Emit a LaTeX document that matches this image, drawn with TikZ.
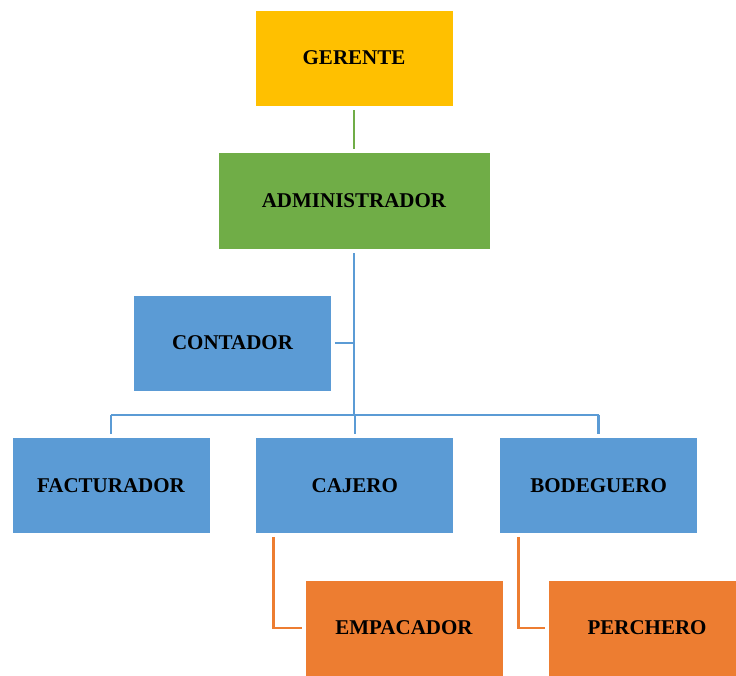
\documentclass[tikz,border=0pt]{standalone}
\usepackage{fontspec}
\setmainfont{Liberation Serif}
\usetikzlibrary{positioning, calc}

\definecolor{gold}{HTML}{FFC000}
\definecolor{leaf}{HTML}{70AD47}
\definecolor{sky}{HTML}{5B9BD5}
\definecolor{tang}{HTML}{ED7D31}

\begin{document}
\begin{tikzpicture}[
  % one unit is one pixel of the 736 x 675 chart
  x=1pt, y=-1pt, font=\bfseries\fontsize{21}{25}\selectfont,
  bx/.style={draw=white, line width=0.8pt, fill=#1, inner sep=0pt,
    minimum width=198pt, minimum height=96pt},
  wide/.style={bx=#1, minimum width=272pt, minimum height=97pt},
  ln/.style={line width=2.6pt, #1},
]
\useasboundingbox (0,0) rectangle (736,675);
% top of the chart
\node[bx=gold] (gerente) at (354, 58) {GERENTE};
\node[wide=leaf] (admin) at (354, 200.5) {ADMINISTRADOR};
\draw[ln=leaf, shorten <=4pt, shorten >=3pt] (gerente.south) -- (admin.north);
% staff line and the bus
\node[bx=sky] (contador) at (232.5, 343) {CONTADOR};
\node[bx=sky] (facturador) at (111, 485.5) {FACTURADOR};
\node[bx=sky, right=45pt of facturador] (cajero) {CAJERO};
\node[bx=sky, right=45pt of cajero] (bodeguero) {BODEGUERO};
\coordinate (bus) at (354, 415);
\draw[ln=sky, shorten <=4pt] (admin.south) -- (bus);
\draw[ln=sky, shorten <=3pt] (contador.east) -- (contador.east -| bus);
\draw[ln=sky] (facturador.north |- bus) -- (bodeguero.north |- bus);
\foreach \n in {facturador,cajero,bodeguero}
  \draw[ln=sky, shorten >=3pt] (\n.north |- bus) -- (\n.north);
% under cajero and bodeguero
\node[bx=tang] (empacador) at (404, 628) {EMPACADOR};
\node[bx=tang] (perchero) at (647, 628) {PERCHERO};
\draw[ln=tang, shorten <=3pt, shorten >=3pt] ($(cajero.south west)+(18,0)$) |- (empacador.west);
\draw[ln=tang, shorten <=3pt, shorten >=3pt] ($(bodeguero.south west)+(19,0)$) |- (perchero.west);
\end{tikzpicture}
\end{document}
